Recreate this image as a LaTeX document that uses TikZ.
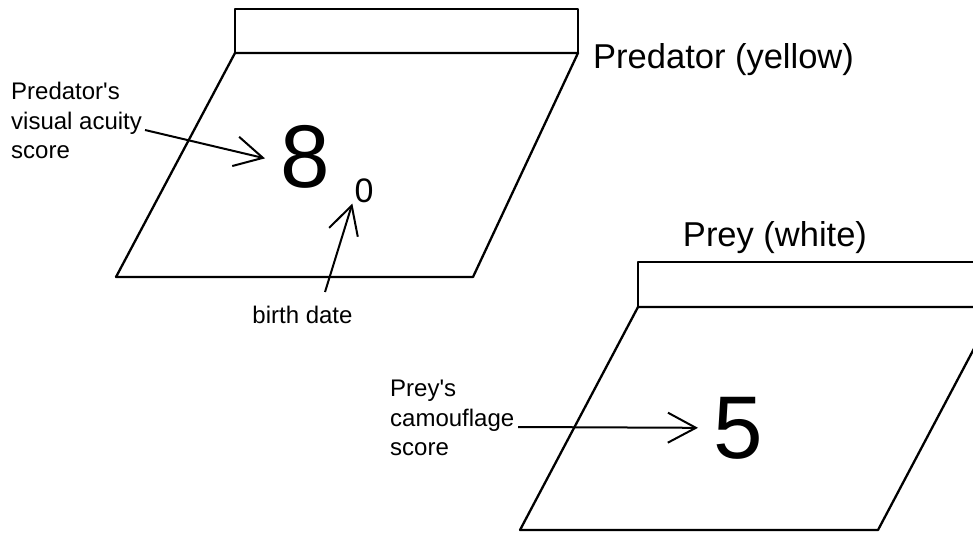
\documentclass[tikz,border=0pt]{standalone}
\usepackage{fontspec}
\setmainfont{Liberation Sans}[Ligatures=TeXOff]
\usetikzlibrary{arrows.meta,calc}
\begin{document}
\begin{tikzpicture}[x=1pt,y=-1pt,
  edge/.style={line width=2.3pt,line join=round},
  arr/.style={line width=2pt,-{Straight Barb[length=28pt,width=30pt,line width=2pt]}},
  lbl/.style={inner sep=0pt,font=\fontsize{24}{29.5}\selectfont,align=left},
  big/.style={inner sep=0pt,font=\fontsize{89}{89}\selectfont},
  ttl/.style={inner sep=0pt,font=\fontsize{34.5}{40}\selectfont}]
\useasboundingbox (0,0) rectangle (973,534);
\begin{scope}
\clip (0,0) rectangle (973,534);
% predator card
\draw[edge] (235,53) rectangle (578,9);
\draw[edge] (235,53) -- (578,53) -- (473,277) -- (116,277) -- cycle;
% prey card
\draw[edge] (638,307) rectangle (996,262);
\draw[edge] (638,307) -- (996,307) -- (878,530) -- (520,530) -- cycle;
\end{scope}
% texts
\node[ttl,anchor=base west] (predT) at (593,68.5) {Predator (yellow)};
\node[ttl,anchor=base] (preyT) at (775,247) {Prey (white)};
\node[lbl,anchor=north west] (predL) at (11,82) {Predator's\\visual acuity\\score};
\node[lbl,anchor=north west] (preyL) at (390,380) {Prey's\\camouflage\\score};
\node[big,anchor=base west] (eight) at (280,188) {8};
\node[big,anchor=base west] (five) at (713,458) {5};
\node[inner sep=0pt,font=\fontsize{34}{34}\selectfont,anchor=base] (zero) at (364,203) {0};
\node[lbl,anchor=base] (birth) at (302.5,323) {birth date};
% connectors
\coordinate (a1s) at (145,130);
\coordinate (a2s) at (325,292);
\coordinate (a3s) at (518,427);
\draw[arr] (a1s) -- ($(eight.west)+(-15,1)$);
\draw[arr] (a2s) -- ($(zero.south west)+(-2,0)$);
\draw[arr] (a3s) -- ($(five.west)+(-15,0)$);
\end{tikzpicture}
\end{document}
